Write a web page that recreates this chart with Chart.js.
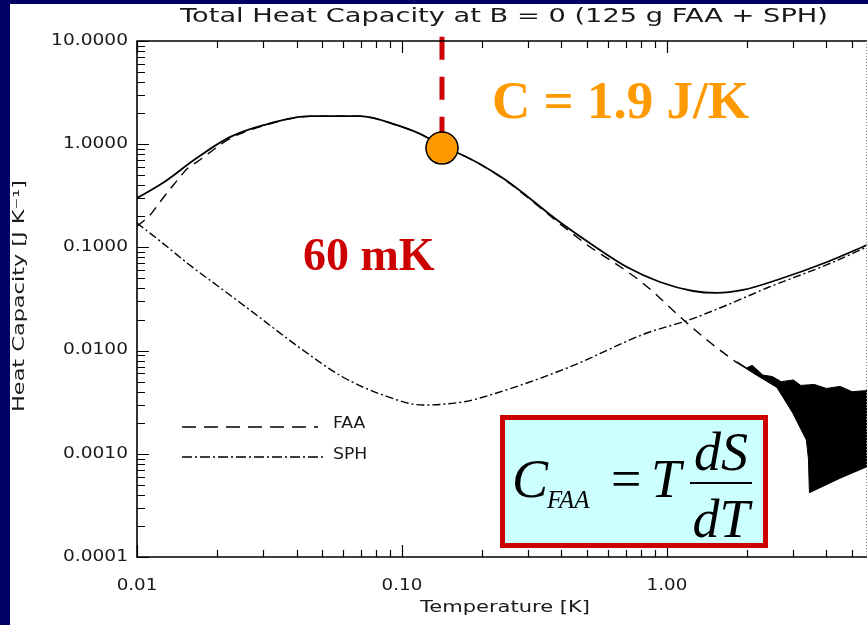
<!DOCTYPE html>
<html>
<head>
<meta charset="utf-8">
<style>
  html, body { margin: 0; padding: 0; background: #000066; overflow: hidden; }
  #wrap { width: 868px; height: 625px; }
  canvas { display: block; }
</style>
<script src="https://cdn.jsdelivr.net/npm/chart.js@4.4.1/dist/chart.umd.min.js"></script>
</head>
<body>
<div id="wrap"><canvas id="heatChart" width="868" height="625"></canvas></div>
<script>
// values: temperature in K, heat capacity in J/K
const totalT = [0.01, 0.0125, 0.0168, 0.0224, 0.03, 0.045, 0.0694, 0.0958, 0.124, 0.1416, 0.1627, 0.24, 0.394, 0.524, 0.706, 0.941, 1.254, 1.545, 1.936, 2.6, 4.02, 5.69]
const totalC = [0.30, 0.42, 0.735, 1.17, 1.53, 1.87, 1.87, 1.53, 1.17, 0.918, 0.822, 0.47, 0.176, 0.1055, 0.0646, 0.0462, 0.0378, 0.0362, 0.0387, 0.0483, 0.0722, 0.1055]

const faaT = [0.01, 0.0112, 0.0122, 0.0137, 0.0156, 0.0168, 0.0224, 0.03, 0.045, 0.0694, 0.0958, 0.124, 0.1416, 0.1627, 0.24, 0.394, 0.524, 0.61, 0.81, 1.19, 1.46, 1.84]
const faaC = [0.16, 0.206, 0.275, 0.40, 0.59, 0.67, 1.13, 1.51, 1.86, 1.865, 1.525, 1.167, 0.915, 0.819, 0.466, 0.170, 0.097, 0.0755, 0.0452, 0.0185, 0.0119, 0.0076]

// noisy FAA tail above ~1.8 K, upper and lower edges of the black band
const noiseUpperT = [1.84, 2.0, 2.1, 2.3, 2.5, 2.7, 3.0, 3.2, 3.6, 4.0, 4.5, 5.0, 5.69]
const noiseUpperC = [0.0078, 0.0068, 0.0072, 0.0058, 0.0056, 0.0050, 0.0052, 0.0046, 0.0047, 0.0043, 0.0045, 0.0040, 0.0041]
const noiseLowerT = [1.84, 2.25, 2.6, 2.98, 3.36, 3.42, 3.45, 4.5, 5.69]
const noiseLowerC = [0.0076, 0.0055, 0.0044, 0.0025, 0.00136, 0.0009, 0.00042, 0.00058, 0.00075]

const sphT = [0.01, 0.0125, 0.0158, 0.02, 0.0267, 0.0423, 0.0598, 0.0846, 0.12, 0.17, 0.197, 0.42, 0.84, 1.19, 1.69, 2.38, 4.02, 5.69]
const sphC = [0.172, 0.11, 0.0675, 0.043, 0.0247, 0.0101, 0.00555, 0.00372, 0.00297, 0.00318, 0.00347, 0.00678, 0.0148, 0.0195, 0.0277, 0.0404, 0.068, 0.101]

const markerT = 0.1416
const markerC = 0.918

const xTicks = [0.01, 0.1, 1]
const xTickLabels = ['0.01', '0.10', '1.00']
const yTicks = [0.0001, 0.001, 0.01, 0.1, 1, 10]
const yTickLabels = ['0.0001', '0.0010', '0.0100', '0.1000', '1.0000', '10.0000']

const toPoints = (xs, ys) => xs.map((x, i) => ({ x: x, y: ys[i] }))

const HERSHEY = '"DejaVu Sans", sans-serif'
const TEXT_COLOR = '#1a1a1a'

function stretchText(ctx, text, x, y, sx, align) {
    ctx.save()
    ctx.translate(x, y)
    ctx.scale(sx, 1)
    ctx.textAlign = align
    ctx.fillText(text, 0, 0)
    ctx.restore()
}

function fitText(ctx, text, x, y, width) {
    const w = ctx.measureText(text).width
    stretchText(ctx, text, x, y, width / w, 'center')
}

const slideBackground = {
    id: 'slideBackground',
    beforeDraw(chart) {
        const ctx = chart.ctx
        ctx.save()
        ctx.fillStyle = '#000066'
        ctx.fillRect(0, 0, chart.width, chart.height)
        ctx.fillStyle = '#ffffff'
        ctx.fillRect(10, 4, chart.width - 10, chart.height - 4)
        ctx.restore()
    }
}

const idlAxes = {
    id: 'idlAxes',
    afterDatasetsDraw(chart) {
        const { ctx, chartArea: a, scales: { x, y } } = chart
        ctx.save()
        ctx.strokeStyle = '#000'
        ctx.lineWidth = 1.6
        ctx.beginPath()
        ctx.moveTo(a.right, a.top)
        ctx.lineTo(a.left, a.top)
        ctx.lineTo(a.left, a.bottom)
        ctx.lineTo(a.right, a.bottom)
        ctx.stroke()

        // dotted right edge, the frame is cut off there
        ctx.strokeStyle = '#888'
        ctx.lineWidth = 1
        ctx.setLineDash([1, 2])
        ctx.beginPath()
        ctx.moveTo(a.right - 0.5, a.top)
        ctx.lineTo(a.right - 0.5, a.bottom)
        ctx.stroke()
        ctx.setLineDash([])

        ctx.strokeStyle = '#000'
        ctx.lineWidth = 1.2
        ctx.beginPath()
        // x ticks, bottom and top, pointing inward
        xTicks.forEach(d => {
            for (let k = 1; k <= 9; k++) {
                const v = d * k
                if (v < x.min || v > x.max) continue
                const px = Math.round(x.getPixelForValue(v)) + 0.5
                const len = k === 1 ? 12 : 7
                ctx.moveTo(px, a.bottom); ctx.lineTo(px, a.bottom - len)
                ctx.moveTo(px, a.top); ctx.lineTo(px, a.top + len)
            }
        })
        // y ticks, left side
        yTicks.forEach(d => {
            for (let k = 1; k <= 9; k++) {
                const v = d * k
                if (v < y.min || v > y.max * 1.0001) continue
                const py = Math.round(y.getPixelForValue(v)) + 0.5
                const len = k === 1 ? 12 : 8
                ctx.moveTo(a.left, py); ctx.lineTo(a.left + len, py)
            }
        })
        ctx.stroke()

        // tick labels
        ctx.fillStyle = TEXT_COLOR
        ctx.font = '15px ' + HERSHEY
        ctx.textBaseline = 'middle'
        x.ticks.forEach((t, i) => {
            stretchText(ctx, xTickLabels[i], x.getPixelForValue(t.value), 586, 1.22, 'center')
        })
        y.ticks.forEach((t, i) => {
            stretchText(ctx, yTickLabels[i], a.left - 9, y.getPixelForValue(t.value), 1.24, 'right')
        })

        // titles
        ctx.font = '19px ' + HERSHEY
        fitText(ctx, 'Total Heat Capacity at B = 0 (125 g FAA + SPH)', 504, 17, 648)
        ctx.font = '15px ' + HERSHEY
        fitText(ctx, 'Temperature [K]', 505, 608, 170)
        ctx.save()
        ctx.translate(20, 296)
        ctx.rotate(-Math.PI / 2)
        fitText(ctx, 'Heat Capacity [J K\u207B\u00B9]', 0, 0, 232)
        ctx.restore()

        // legend
        ctx.lineWidth = 1.3
        ctx.strokeStyle = '#000'
        ctx.setLineDash([14, 8])
        ctx.beginPath(); ctx.moveTo(182, 427); ctx.lineTo(318, 427); ctx.stroke()
        ctx.setLineDash([10, 3, 2, 3])
        ctx.beginPath(); ctx.moveTo(182, 457); ctx.lineTo(325, 457); ctx.stroke()
        ctx.setLineDash([])
        ctx.textBaseline = 'alphabetic'
        stretchText(ctx, 'FAA', 333, 428, 1.15, 'left')
        stretchText(ctx, 'SPH', 333, 459, 1.15, 'left')
        ctx.restore()
    }
}

const slideNotes = {
    id: 'slideNotes',
    afterDraw(chart) {
        const ctx = chart.ctx
        ctx.save()
        ctx.textBaseline = 'alphabetic'
        ctx.textAlign = 'left'

        ctx.fillStyle = '#FF9900'
        ctx.font = 'bold 53px "Liberation Serif", serif'
        ctx.fillText('C = 1.9 J/K', 492, 118)

        ctx.fillStyle = '#CC0000'
        ctx.font = 'bold 46px "Liberation Serif", serif'
        ctx.fillText('60 mK', 303, 270)

        // formula box
        ctx.fillStyle = '#CCFFFF'
        ctx.fillRect(500, 415, 268, 133)
        ctx.strokeStyle = '#CC0000'
        ctx.lineWidth = 5
        ctx.strokeRect(502.5, 417.5, 263, 128)

        ctx.fillStyle = '#000'
        ctx.font = 'italic 54px "Liberation Serif", serif'
        ctx.fillText('C', 512, 497)
        ctx.fillText('T', 651, 497)
        ctx.font = 'italic 25px "Liberation Serif", serif'
        ctx.fillText('FAA', 547, 508)
        ctx.font = '54px "Liberation Serif", serif'
        ctx.fillText('=', 611, 497)
        ctx.font = 'italic 54px "Liberation Serif", serif'
        ctx.textAlign = 'center'
        ctx.fillText('dS', 721, 470)
        ctx.fillText('dT', 721, 537)
        ctx.fillRect(690, 482, 62, 2)
        ctx.restore()
    }
}

new Chart(document.getElementById('heatChart'), {
    type: 'line',
    data: {
        datasets: [
            {
                label: 'C = 1.9 J/K',
                data: [{ x: markerT, y: markerC }],
                showLine: false,
                pointRadius: 16,
                pointBackgroundColor: '#FF9900',
                pointBorderColor: '#000',
                pointBorderWidth: 1.5
            },
            {
                label: '60 mK',
                data: [{ x: markerT, y: 11 }, { x: markerT, y: markerC }],
                borderColor: '#CC0000',
                borderWidth: 5,
                borderDash: [23, 17],
                pointRadius: 0,
                clip: false
            },
            {
                label: 'Total',
                data: toPoints(totalT, totalC),
                borderColor: '#000',
                borderWidth: 1.8,
                pointRadius: 0,
                cubicInterpolationMode: 'monotone'
            },
            {
                label: 'FAA',
                data: toPoints(faaT, faaC),
                borderColor: '#000',
                borderWidth: 1.4,
                borderDash: [10, 7],
                pointRadius: 0,
                cubicInterpolationMode: 'monotone'
            },
            {
                label: 'FAA noise upper',
                data: toPoints(noiseUpperT, noiseUpperC),
                borderColor: '#000',
                borderWidth: 1,
                pointRadius: 0,
                tension: 0
            },
            {
                label: 'FAA noise lower',
                data: toPoints(noiseLowerT, noiseLowerC),
                borderColor: '#000',
                backgroundColor: '#000',
                borderWidth: 1,
                pointRadius: 0,
                tension: 0,
                fill: '-1'
            },
            {
                label: 'SPH',
                data: toPoints(sphT, sphC),
                borderColor: '#000',
                borderWidth: 1.4,
                borderDash: [8, 3, 2, 3],
                pointRadius: 0,
                cubicInterpolationMode: 'monotone'
            }
        ]
    },
    options: {
        responsive: false,
        animation: false,
        layout: { autoPadding: false, padding: { top: 41, right: 1, left: 0, bottom: 0 } },
        plugins: {
            legend: { display: false },
            tooltip: { enabled: false },
            filler: { propagate: false }
        },
        scales: {
            x: {
                type: 'logarithmic',
                min: 0.01,
                max: 5.69,
                grid: { display: false, drawTicks: false },
                border: { display: false },
                ticks: { display: false },
                afterBuildTicks: axis => { axis.ticks = xTicks.map(v => ({ value: v })) },
                afterFit: scale => { scale.height = 68 }
            },
            y: {
                type: 'logarithmic',
                min: 0.0001,
                max: 10,
                grid: { display: false, drawTicks: false },
                border: { display: false },
                ticks: { display: false },
                afterBuildTicks: axis => { axis.ticks = yTicks.map(v => ({ value: v })) },
                afterFit: scale => { scale.width = 137 }
            }
        }
    },
    plugins: [slideBackground, idlAxes, slideNotes]
})
</script>
</body>
</html>
